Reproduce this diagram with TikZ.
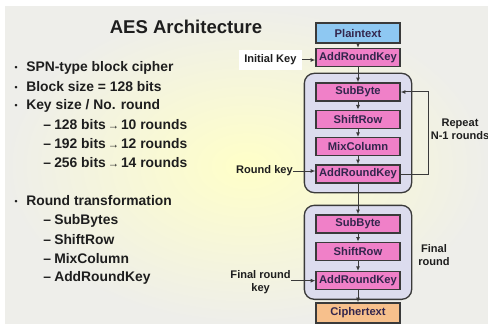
\documentclass[tikz,border=0pt]{standalone}
\usepackage{fontspec}
\setmainfont{Liberation Sans}
\usetikzlibrary{arrows.meta,positioning,fit,backgrounds}
\definecolor{ink}{HTML}{1E1E1E}
\definecolor{boxink}{HTML}{33264D}
\definecolor{edge}{HTML}{3A3A3A}
\definecolor{pinkbox}{HTML}{F080C8}
\definecolor{bluebox}{HTML}{8EC8F2}
\definecolor{orangebox}{HTML}{F7C08C}
\definecolor{roundbg}{HTML}{DCDCEE}
\definecolor{slide}{HTML}{EEEEEA}
\definecolor{glow}{HTML}{FFFFC8}
\newcommand{\dotmark}{\makebox[9.75pt][l]{\hspace{1pt}\raisebox{0.9pt}{\fontsize{6.5}{8}\selectfont\textbullet}}}
\newcommand{\dashmark}{\makebox[8.25pt][l]{--}}
\newcommand{\keyarrow}{{\fontsize{8.5}{10}\selectfont\,→\,}}

\begin{document}
\begin{tikzpicture}[x=0.75pt, y=-0.75pt,
  node distance=6pt,
  stage/.style={draw=edge, line width=1pt, fill=pinkbox, minimum width=63pt,
                minimum height=13.5pt, inner sep=0pt,
                font=\fontsize{8.4}{10}\selectfont\bfseries, text=boxink},
  ends/.style={stage, minimum height=15pt},
  roundbox/.style={draw=edge, line width=1pt, fill=roundbg, rounded corners=7.5pt,
                   inner xsep=8.25pt, inner ysep=6.75pt},
  note/.style={font=\fontsize{8.3}{9.5}\selectfont\bfseries, text=ink,
               inner sep=0pt, align=center},
  point/.style={anchor=west, inner sep=0pt, text=ink,
                font=\fontsize{10.4}{12}\selectfont\bfseries},
  arrow/.style={draw=edge, line width=0.75pt, -{Latex[length=3.5pt,width=3pt]}}
]
  \useasboundingbox (0,0) rectangle (488,324);
  \begin{scope}[on background layer]
    \fill[white] (0,0) rectangle (488,324);
    \shade[inner color=glow, outer color=slide] (5,7) rectangle (488,324);
  \end{scope}

  % title and bullet list
  \node[font=\fontsize{13.9}{16}\selectfont\bfseries, text=ink] (title) at (186,27) {AES Architecture};
  \node[point] (p1) at (13,68) {\dotmark SPN-type block cipher};
  \node[point] (p2) at (13,87) {\dotmark Block size = 128 bits};
  \node[point] (p3) at (13,106) {\dotmark Key size / No. round};
  \node[point] (k1) at (43,125) {\dashmark 128 bits\keyarrow 10 rounds};
  \node[point] (k2) at (43,144) {\dashmark 192 bits\keyarrow 12 rounds};
  \node[point] (k3) at (43,163) {\dashmark 256 bits\keyarrow 14 rounds};
  \node[point] (p4) at (13,201) {\dotmark Round transformation};
  \node[point] (t1) at (43,221) {\dashmark SubBytes};
  \node[point] (t2) at (43,240) {\dashmark ShiftRow};
  \node[point] (t3) at (43,259) {\dashmark MixColumn};
  \node[point] (t4) at (43,278) {\dashmark AddRoundKey};

  % cipher flow
  \node[ends, fill=bluebox] (plain) at (358,33) {Plaintext};
  \node[stage] (ark0) at (358,57.5) {AddRoundKey};
  \node[stage] (sub1) at (358,92) {SubByte};
  \node[stage, below=of sub1] (shift1) {ShiftRow};
  \node[stage, below=of shift1] (mix1) {MixColumn};
  \node[stage, below=of mix1] (ark1) {AddRoundKey};
  \node[stage] (sub2) at (358,224) {SubByte};
  \node[stage, below=of sub2] (shift2) {ShiftRow};
  \node[stage, below=7.5pt of shift2] (ark2) {AddRoundKey};
  \node[ends, fill=orangebox] (cipher) at (358,313) {Ciphertext};
  \begin{scope}[on background layer]
    \node[roundbox, fit=(sub1)(ark1)] (rnd) {};
    \node[roundbox, fit=(sub2)(ark2)] (last) {};
  \end{scope}

  % keys and notes
  \node[note, fill=white, minimum width=47pt, minimum height=15pt, anchor=east] (ikey) at (302,60) {Initial Key};
  \node[note, anchor=east] (rkey) at (293,171) {Round key};
  \node[note, anchor=east] (fkey) at (291,282) {Final round\\key};
  \node[note] (rep) at (460,129) {Repeat\\N-1 rounds};
  \node[note] (fin) at (434,255) {Final\\round};

  \draw[arrow] (plain) -- (ark0);
  \draw[arrow] (ark0) -- (sub1);
  \draw[arrow] (sub1) -- (shift1);
  \draw[arrow] (shift1) -- (mix1);
  \draw[arrow] (mix1) -- (ark1);
  \draw[arrow] (ark1) -- (sub2);
  \draw[arrow] (sub2) -- (shift2);
  \draw[arrow] (shift2) -- (ark2);
  \draw[arrow] (ark2) -- (cipher);
  \draw[arrow] (ikey.east) -- (ikey.east -| ark0.west);
  \draw[arrow] (rkey.east) -- (rkey.east -| ark1.west);
  \draw[arrow] (fkey.east |- ark2.west) -- (ark2.west);
  \draw[arrow] (ark1.east) -- ++(28,0) |- (sub1.east);
\end{tikzpicture}
\end{document}
